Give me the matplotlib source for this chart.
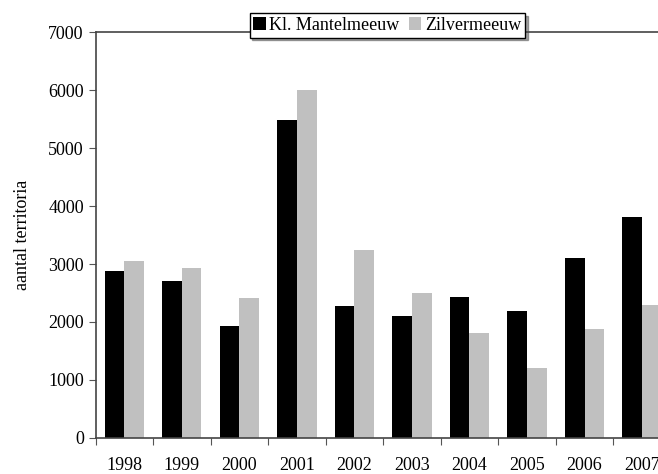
import numpy as np
import matplotlib
matplotlib.use("Agg")
import matplotlib.pyplot as plt

years = ["1998", "1999", "2000", "2001", "2002", "2003", "2004", "2005", "2006", "2007"]
kl_mantelmeeuw = [2880, 2700, 1930, 5480, 2280, 2100, 2430, 2190, 3100, 3820]
zilvermeeuw = [3060, 2930, 2420, 6010, 3240, 2500, 1800, 1200, 1870, 2300]

plt.rcParams['font.family'] = ['Liberation Serif', 'DejaVu Serif']

fig = plt.figure(figsize=(6.58, 4.74), dpi=100)
# axes run past the right edge, like the cropped original
ax = fig.add_axes([0.1454, 0.0766, 0.874, 0.855])

x = np.arange(len(years))
w = 0.34
ax.bar(x - w / 2, kl_mantelmeeuw, width=w, color="black", label="Kl. Mantelmeeuw")
ax.bar(x + w / 2, zilvermeeuw, width=w, color="#c0c0c0", label="Zilvermeeuw")

ax.set_xlim(-0.5, len(years) - 0.5)
ax.set_ylim(0, 7000)
ax.set_yticks(range(0, 7001, 1000))

# boundary ticks, labels centred between them
ax.set_xticks(np.arange(len(years)) - 0.5)
ax.set_xticklabels([])
ax.set_xticks(x, minor=True)
ax.set_xticklabels(years, minor=True)
ax.tick_params(axis="x", which="major", direction="out", length=5, color="#555555")
ax.tick_params(axis="x", which="minor", length=0, pad=14, labelsize=13)
ax.tick_params(axis="y", direction="out", length=5, labelsize=13, color="#555555")

for s in ["top", "left", "bottom"]:
    ax.spines[s].set_color("#444444")
    ax.spines[s].set_linewidth(1.2)
ax.spines["right"].set_visible(False)

ax.set_ylabel("aantal territoria", fontsize=13, labelpad=12)

leg = ax.legend(loc="center", bbox_to_anchor=(0.507, 1.017), ncol=2, frameon=True,
                fancybox=False, shadow=True, fontsize=13, handlelength=0.7,
                handleheight=0.7, handletextpad=0.2, columnspacing=0.5,
                borderpad=0.2, borderaxespad=0)
leg.get_frame().set_edgecolor("black")
leg.get_frame().set_linewidth(1.0)
leg.set_zorder(5)

fig.savefig("out.png", dpi=100)
